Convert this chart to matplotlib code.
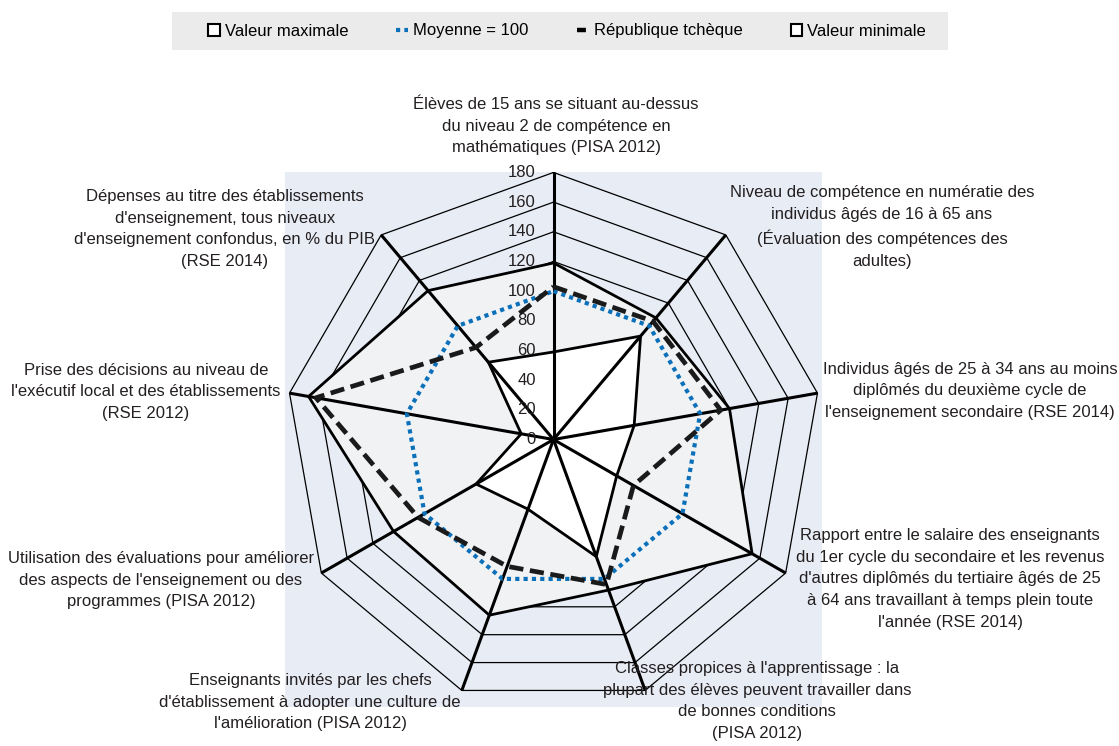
import numpy as np
import matplotlib.pyplot as plt
from matplotlib.patches import Patch, Rectangle
from matplotlib.lines import Line2D

plt.rcParams['font.family'] = ['Liberation Sans', 'DejaVu Sans']

W, H = 1119, 746

axis_labels = [
    "Élèves de 15 ans se situant au-dessus\ndu niveau 2 de compétence en\nmathématiques (PISA 2012)",
    "Niveau de compétence en numératie des\nindividus âgés de 16 à 65 ans\n(Évaluation des compétences des\nadultes)",
    "Individus âgés de 25 à 34 ans au moins\ndiplômés du deuxième cycle de\nl'enseignement secondaire (RSE 2014)",
    "Rapport entre le salaire des enseignants\ndu 1er cycle du secondaire et les revenus\nd'autres diplômés du tertiaire âgés de 25\nà 64 ans travaillant à temps plein toute\nl'année (RSE 2014)",
    "Classes propices à l'apprentissage : la\nplupart des élèves peuvent travailler dans\nde bonnes conditions\n(PISA 2012)",
    "Enseignants invités par les chefs\nd'établissement à adopter une culture de\nl'amélioration (PISA 2012)",
    "Utilisation des évaluations pour améliorer\ndes aspects de l'enseignement ou des\nprogrammes (PISA 2012)",
    "Prise des décisions au niveau de\nl'exécutif local et des établissements\n(RSE 2012)",
    "Dépenses au titre des établissements\nd'enseignement, tous niveaux\nd'enseignement confondus, en % du PIB\n(RSE 2014)",
]
max_values = [119, 107, 120, 154, 108, 126, 124, 167, 131]
mean_values = [100, 100, 100, 100, 100, 100, 100, 100, 100]
czech_values = [103, 104, 114, 62, 104, 91, 105, 162, 81]
min_values = [59, 91, 55, 49, 84, 50, 60, 22, 68]
grid_levels = [0, 20, 40, 60, 80, 100, 120, 140, 160, 180]

series_names = ["Valeur maximale", "Moyenne = 100", "République tchèque", "Valeur minimale"]

# label anchor points in pixels (centre of text block)
label_pos = [(556, 126), (882, 227), (970, 391), (950, 579), (757, 701),
             (310, 702), (161, 580), (146, 392), (225, 229)]

n = len(axis_labels)
theta = 2 * np.pi * np.arange(n) / n
FS = 12


def xy(vals):
    r = np.asarray(vals, dtype=float)
    x = r * np.sin(theta)
    y = r * np.cos(theta)
    return np.append(x, x[0]), np.append(y, y[0])


fig = plt.figure(figsize=(W / 100, H / 100), dpi=100)
ax = fig.add_axes([285 / W, 1 - 707 / H, 537 / W, 535 / H])
ax.set_facecolor('#e8ecf5')
ax.set_xlim(-180.3, 180.3)
ax.set_ylim(-180.3, 180.3)
for s in ax.spines.values():
    s.set_visible(False)
ax.set_xticks([])
ax.set_yticks([])

# grid polygons
for g in grid_levels[1:]:
    gx, gy = xy([g] * n)
    ax.plot(gx, gy, color='black', lw=0.9, zorder=1)

# max / min areas
mx, my = xy(max_values)
ax.fill(mx, my, facecolor='#f1f2f4', edgecolor='black', lw=2.0, zorder=2)
nx, ny = xy(min_values)
ax.fill(nx, ny, facecolor='white', edgecolor='black', lw=2.0, zorder=3)

# spokes
for t in theta:
    ax.plot([0, 180 * np.sin(t)], [0, 180 * np.cos(t)], color='black', lw=2.2,
            zorder=4, solid_capstyle='butt')

# mean and Czech Republic
ex, ey = xy(mean_values)
ax.plot(ex, ey, color='#0a70ba', lw=3, linestyle=(0, (1, 1)), zorder=5)
cx, cy = xy(czech_values)
ax.plot(cx, cy, color='#1a1a1a', lw=3.4, linestyle=(0, (3, 1.4)), zorder=6)

# radial tick labels on the top axis
for g in grid_levels:
    ax.text(-12, g, str(g), ha='right', va='center', fontsize=FS,
            color='#231f20', zorder=7)

# category labels
for lab, (px, py) in zip(axis_labels, label_pos):
    fig.text(px / W, 1 - py / H, lab, ha='center', va='center', fontsize=FS,
             color='#231f20', linespacing=1.58, multialignment='center')

# legend
fig.patches.append(Rectangle((172 / W, 1 - 50 / H), 776 / W, 38 / H,
                             transform=fig.transFigure, facecolor='#ebebeb',
                             edgecolor='none', zorder=0))
handles = [
    Patch(facecolor='white', edgecolor='black', lw=1.5),
    Line2D([], [], color='#0a70ba', lw=3, linestyle=(0, (1, 1))),
    Line2D([], [], color='black', lw=3.2, linestyle=(0, (2, 1))),
    Patch(facecolor='white', edgecolor='black', lw=1.5),
]
fig.legend(handles, series_names, loc='center', bbox_to_anchor=(567 / W, 1 - 31 / H),
           ncol=4, frameon=False, fontsize=FS, handlelength=0.7, handleheight=0.7,
           handletextpad=0.3, columnspacing=2.9)

fig.savefig('out.png', dpi=100)
